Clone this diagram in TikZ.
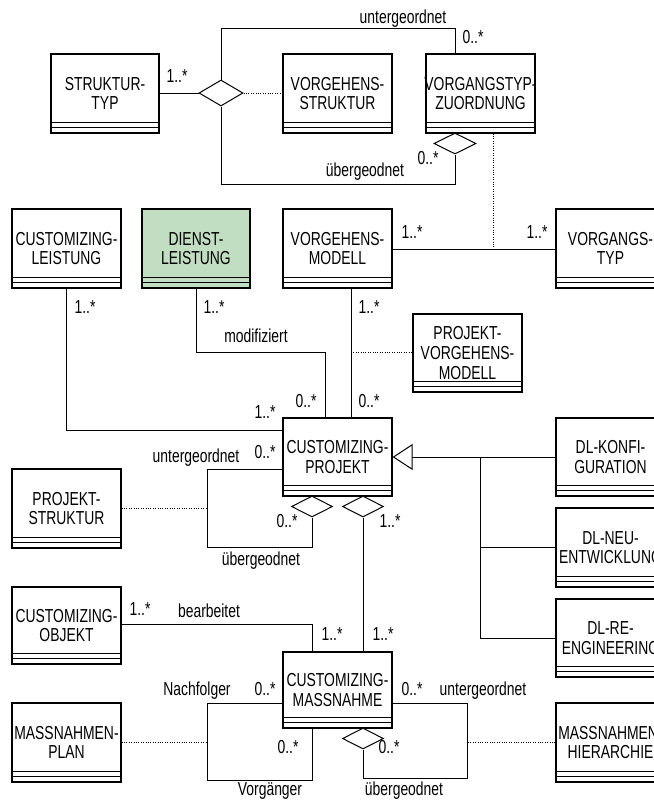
\documentclass[tikz,border=0pt]{standalone}
\usepackage{fontspec}
\setmainfont{Liberation Sans}[FakeStretch=0.74]
\usetikzlibrary{shapes.geometric,arrows.meta,calc}
\definecolor{dlgreen}{RGB}{194,222,194}
\tikzset{
  ubox/.style={draw, rectangle, line width=0.9pt, inner sep=0pt},
  boxtext/.style={align=center, inner sep=0pt, font=\fontsize{14.1}{14.7}\selectfont},
  lab/.style={anchor=base, inner sep=0pt, font=\fontsize{14.1}{14.7}\selectfont},
  dia/.style={diamond, draw, fill=white, inner sep=0pt, line width=0.75pt},
  conn/.style={line width=0.75pt},
  dotl/.style={line width=0.75pt, dash pattern=on 0.8pt off 1pt},
  gen/.style={line width=0.75pt, -{Triangle[open, fill=white, length=15pt, width=19.5pt]}}
}
\newcommand\umlbox[7][white]{%
  \node[ubox, fill=#1, minimum width={(#5-#3)*0.75pt}, minimum height={(#6-#4)*0.75pt}] (#2) at ({(#3+#5)/2},{(#4+#6)/2}) {};
  \draw[line width=0.75pt] ($(#2.south west)+(0,-11)$) -- ($(#2.south east)+(0,-11)$);
  \draw[line width=0.75pt] ($(#2.south west)+(0,-6)$) -- ($(#2.south east)+(0,-6)$);
  \node[boxtext] (#2-t) at (#2) {#7};
}
\begin{document}
\begin{tikzpicture}[x=0.75pt, y=-0.75pt, conn]
\clip (0,0) rectangle (654,801);
\fill[white] (0,0) rectangle (654,801);

% boxes
\umlbox{sttyp}{51}{54}{159}{133}{STRUKTUR-\\TYP}
\umlbox{vstr}{283}{54}{392}{133}{VORGEHENS-\\STRUKTUR}
\umlbox{vtz}{426}{54}{535}{133}{VORGANGSTYP-\\ZUORDNUNG}
\umlbox{cl}{12}{209}{121}{288}{CUSTOMIZING-\\LEISTUNG}
\umlbox[dlgreen]{dl}{142}{209}{250}{288}{DIENST-\\LEISTUNG}
\umlbox{vmod}{283}{209}{392}{288}{VORGEHENS-\\MODELL}
\umlbox{vtyp}{556}{209}{665}{288}{VORGANGS-\\TYP}
\umlbox{pvm}{413}{314}{522}{392}{PROJEKT-\\VORGEHENS-\\MODELL}
\umlbox{cp}{283}{418}{392}{496}{CUSTOMIZING-\\PROJEKT}
\umlbox{dlk}{556}{418}{665}{496}{DL-KONFI-\\GURATION}
\umlbox{ps}{12}{469}{121}{548}{PROJEKT-\\STRUKTUR}
\umlbox{dln}{556}{508}{665}{587}{DL-NEU-\\ENTWICKLUNG}
\umlbox{co}{12}{587}{121}{664}{CUSTOMIZING-\\OBJEKT}
\umlbox{dlr}{556}{599}{665}{677}{DL-RE-\\ENGINEERING}
\umlbox{cm}{283}{652}{392}{728}{CUSTOMIZING-\\MASSNAHME}
\umlbox{mp}{12}{703}{121}{782}{MASSNAHMEN-\\PLAN}
\umlbox{mh}{556}{703}{665}{782}{MASSNAHMEN-\\HIERARCHIE}

% diamonds
\node[dia, minimum width=33pt, minimum height=19.5pt] (d1) at (221,93) {};
\node[dia, minimum width=31.5pt, minimum height=15.75pt] (d2) at (455,143.5) {};
\node[dia, minimum width=30.75pt, minimum height=15.75pt] (d3) at (312,506.5) {};
\node[dia, minimum width=30.75pt, minimum height=15.75pt] (d4) at (363,506.5) {};
\node[dia, minimum width=30.75pt, minimum height=15.75pt] (d5) at (363,738.5) {};

% top structure
\draw (d1.west -| sttyp.east) -- (d1.west);
\draw[dotl] (d1.east) -- (d1.east -| vstr.west);
\coordinate (ut) at (455,28);
\draw (d1.north) |- (ut) -- (ut |- vtz.north);
\coordinate (ub) at (455,184);
\draw (d1.south) |- (ub) -- (d2.south);
\coordinate (vj) at (493,249);
\draw[dotl] (vj |- vtz.south) -- (vj);
\draw (vmod.east |- vj) -- (vtyp.west |- vj);

% customizing-projekt associations
\coordinate (clc) at (66,430);
\draw (clc |- cl.south) -- (clc) -- (clc -| cp.west);
\coordinate (dlc) at (196,352);
\coordinate (dlc2) at (325,352);
\draw (dlc |- dl.south) -- (dlc) -- (dlc2) -- (dlc2 |- cp.north);
\coordinate (vmc) at (351,352);
\draw (vmc |- vmod.south) -- (vmc |- cp.north);
\draw[dotl] (vmc) -- (vmc -| pvm.west);

% generalization
\coordinate (gj) at (480,457);
\draw[gen] (gj -| dlk.west) -- (gj -| cp.east);
\draw (gj) |- (dln.west);
\draw (gj) |- (dlr.west);

% projekt self association
\coordinate (psa) at (207,469);
\coordinate (psb) at (207,547);
\draw (psa -| cp.west) -- (psa) -- (psb) -| (d3.south);
\draw[dotl] (ps.east) -- (ps.east -| psa);

% massnahme
\draw (d4.south) -- (d4.south |- cm.north);
\coordinate (coc) at (312,624);
\draw (coc -| co.east) -- (coc) -- (coc |- cm.north);
\coordinate (na) at (207,703);
\coordinate (nb) at (207,780);
\coordinate (nc) at (312,780);
\draw (na -| cm.west) -- (na) -- (nb) -- (nc) -- (nc |- cm.south);
\draw[dotl] (mp.east) -- (mp.east -| na);
\coordinate (ra) at (467,703);
\coordinate (rb) at (467,778);
\draw (ra -| cm.east) -- (ra) -- (rb) -| (d5.south);
\draw[dotl] (mh.west) -- (mh.west -| ra);

% labels
\node[lab] (l1) at (177,82) {1..*};
\node[lab] (l2) at (403,23) {untergeordnet};
\node[lab] (l3) at (473,43) {0..*};
\node[lab] (l4) at (428,164) {0..*};
\node[lab] (l5) at (365,176) {übergeodnet};
\node[lab] (l6) at (85,313) {1..*};
\node[lab] (l7) at (214,313) {1..*};
\node[lab] (l8) at (256,342) {modifiziert};
\node[lab] (l9) at (306,407) {0..*};
\node[lab] (l10) at (265,418) {1..*};
\node[lab] (l11) at (412,238) {1..*};
\node[lab] (l12) at (537,238) {1..*};
\node[lab] (l13) at (369,313) {1..*};
\node[lab] (l14) at (369,407) {0..*};
\node[lab] (l15) at (196,462) {untergeordnet};
\node[lab] (l16) at (265,458) {0..*};
\node[lab] (l17) at (287,527) {0..*};
\node[lab] (l18) at (261,565) {übergeodnet};
\node[lab] (l19) at (390,527) {1..*};
\node[lab] (l20) at (140,615) {1..*};
\node[lab] (l21) at (209,617) {bearbeitet};
\node[lab] (l22) at (332,640) {1..*};
\node[lab] (l23) at (383,640) {1..*};
\node[lab] (l24) at (412,695) {0..*};
\node[lab] (l25) at (483,695) {untergeordnet};
\node[lab] (l26) at (389,753) {0..*};
\node[lab] (l27) at (404,795) {übergeodnet};
\node[lab] (l28) at (197,695) {Nachfolger};
\node[lab] (l29) at (265,695) {0..*};
\node[lab] (l30) at (288,753) {0..*};
\node[lab] (l31) at (270,795) {Vorgänger};
\end{tikzpicture}
\end{document}
